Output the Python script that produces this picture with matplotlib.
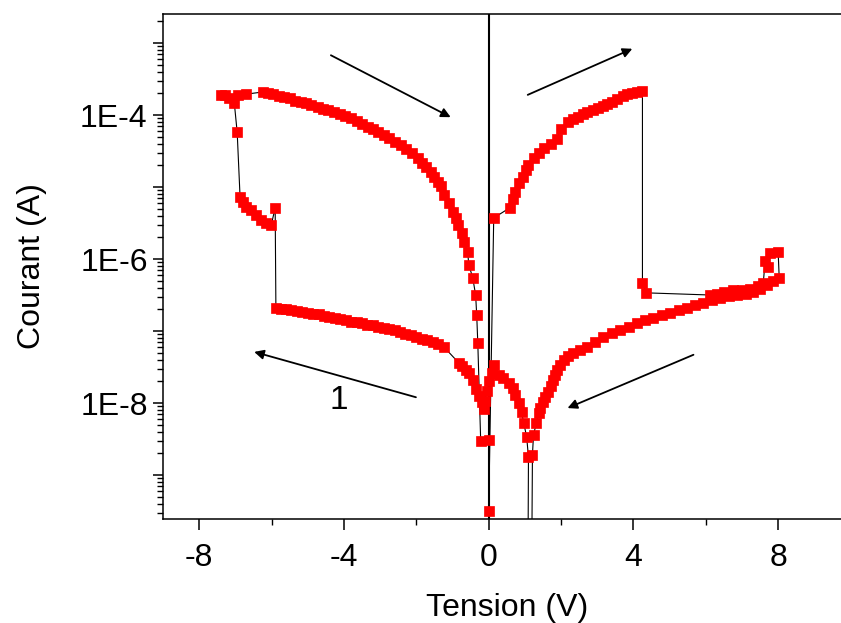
import matplotlib
matplotlib.use("Agg")
import matplotlib.pyplot as plt
import numpy as np
from matplotlib.ticker import FixedLocator, LogLocator, NullFormatter

plt.rcParams["font.family"] = ["Liberation Sans", "DejaVu Sans"]
plt.rcParams["axes.unicode_minus"] = False

# sweep 0 -> -7.4 V, low state then switching
v_low_left = [0.14, 0.08, 0.02, -0.05, -0.10, -0.14, -0.19, -0.28, -0.36, -0.44, -0.55, -0.63, -0.74, -0.83,
              -1.24, -1.40, -1.55, -1.70, -1.85, -2.00, -2.15, -2.30, -2.45, -2.60, -2.75, -2.90, -3.05, -3.20,
              -3.35, -3.50, -3.65, -3.80, -3.95, -4.10, -4.25, -4.40, -4.55, -4.70, -4.85, -5.00, -5.15, -5.30,
              -5.45, -5.60, -5.75, -5.88]
logi_low_left = [-7.47, -7.58, -7.70, -7.83, -7.97, -8.08, -7.99, -7.90, -7.81, -7.68, -7.58, -7.54, -7.49, -7.44,
                 -7.22, -7.18, -7.15, -7.13, -7.11, -7.09, -7.06, -7.04, -7.02, -6.99, -6.97, -6.96, -6.94, -6.92,
                 -6.91, -6.89, -6.88, -6.87, -6.85, -6.83, -6.82, -6.81, -6.79, -6.77, -6.76, -6.75, -6.74, -6.72,
                 -6.71, -6.70, -6.69, -6.68]

v_switch_left = [-5.90, -6.01, -6.15, -6.29, -6.43, -6.57, -6.70, -6.79, -6.87, -6.95, -7.03, -7.18, -7.39,
                 -7.30, -6.92, -6.70]
logi_switch_left = [-5.29, -5.53, -5.50, -5.46, -5.39, -5.32, -5.28, -5.21, -5.14, -4.24, -3.83, -3.76, -3.72,
                    -3.72, -3.72, -3.71]

# return -7.4 -> 0 V, high state
v_high_left = [-6.24, -6.10, -5.95, -5.80, -5.66, -5.50, -5.35, -5.19, -5.05, -4.90, -4.72, -4.58, -4.43, -4.28,
               -4.12, -3.96, -3.81, -3.65, -3.50, -3.34, -3.20, -3.05, -2.90, -2.75, -2.60, -2.43, -2.28, -2.12,
               -1.96, -1.84, -1.72, -1.60, -1.50, -1.40, -1.32, -1.24, -1.10, -0.99, -0.91, -0.86, -0.74, -0.69,
               -0.58, -0.55, -0.44, -0.36, -0.33, -0.30, -0.22, 0.0, 0.0]
logi_high_left = [-3.68, -3.69, -3.71, -3.73, -3.75, -3.77, -3.80, -3.82, -3.84, -3.86, -3.89, -3.91, -3.93, -3.96,
                  -3.99, -4.01, -4.04, -4.08, -4.12, -4.17, -4.20, -4.24, -4.28, -4.32, -4.37, -4.42, -4.47, -4.53,
                  -4.60, -4.66, -4.72, -4.79, -4.86, -4.93, -4.99, -5.11, -5.22, -5.35, -5.43, -5.53, -5.64, -5.76,
                  -5.90, -6.08, -6.26, -6.50, -6.78, -7.17, -8.53, -8.52, -9.50]

# sweep 0 -> 8 V, high state
v_high_right = [0.14, 0.58, 0.66, 0.74, 0.83, 0.94, 1.02, 1.10, 1.24, 1.38, 1.52, 1.71, 1.90, 1.99, 2.18, 2.32,
                2.46, 2.60, 2.73, 2.87, 3.01, 3.15, 3.28, 3.42, 3.56, 3.70, 3.83, 3.97, 4.11, 4.25]
logi_high_right = [-5.43, -5.29, -5.17, -5.07, -4.94, -4.86, -4.76, -4.69, -4.60, -4.53, -4.46, -4.40, -4.33, -4.19,
                   -4.10, -4.06, -4.03, -3.99, -3.96, -3.93, -3.90, -3.87, -3.85, -3.82, -3.78, -3.74, -3.71, -3.69,
                   -3.68, -3.66]

v_switch_right = [4.25, 4.36, 6.12, 6.30, 6.50, 6.76, 7.00, 7.23, 7.45, 7.59, 7.64, 7.72, 7.78, 8.00, 8.03]
logi_switch_right = [-6.33, -6.47, -6.50, -6.48, -6.46, -6.43, -6.43, -6.41, -6.37, -6.33, -6.03, -6.11, -5.92,
                     -5.90, -6.26]

# return 8 -> 0 V, low state
v_low_right = [7.85, 7.70, 7.50, 7.31, 7.10, 6.87, 6.65, 6.40, 6.17, 5.93, 5.71, 5.49, 5.25, 5.02, 4.78, 4.55,
               4.33, 4.11, 3.88, 3.64, 3.40, 3.17, 2.95, 2.73, 2.53, 2.34, 2.20, 2.07, 1.98, 1.90, 1.84, 1.79,
               1.71, 1.63, 1.56, 1.49, 1.43, 1.38, 1.32, 1.24, 1.21, 1.18, 1.08, 1.10, 1.05, 0.97, 0.91, 0.83,
               0.74, 0.66, 0.55, 0.41, 0.28]
logi_low_right = [-6.30, -6.36, -6.42, -6.46, -6.48, -6.50, -6.52, -6.54, -6.57, -6.61, -6.64, -6.68, -6.71, -6.75,
                  -6.78, -6.82, -6.85, -6.89, -6.94, -6.99, -7.03, -7.08, -7.15, -7.22, -7.26, -7.31, -7.35, -7.40,
                  -7.47, -7.54, -7.61, -7.68, -7.76, -7.85, -7.92, -7.99, -8.07, -8.14, -8.28, -8.44, -8.72, -11.0,
                  -11.0, -8.75, -8.47, -8.28, -8.13, -8.00, -7.89, -7.79, -7.72, -7.65, -7.61]

voltage = np.concatenate([v_low_left, v_switch_left, v_high_left, v_high_right, v_switch_right, v_low_right])
current = 10.0 ** np.concatenate([logi_low_left, logi_switch_left, logi_high_left, logi_high_right,
                                  logi_switch_right, logi_low_right])

fig = plt.figure(figsize=(8.41, 6.23), dpi=100)
ax = fig.add_axes([163 / 841, 104 / 623, 687.5 / 841, 505 / 623])

ax.plot(voltage, current, color="k", lw=0.8, marker="s", ms=7.0, mfc="#ff0000", mec="#ff0000", mew=0.5, zorder=3)
ax.axvline(0, color="k", lw=1.5, zorder=2)

ax.set_yscale("log")
ax.set_xlim(-9, 10)
ax.set_ylim(10 ** -9.611, 10 ** -2.597)

ax.set_xticks([-8, -4, 0, 4, 8])
ax.set_xticklabels(["-8", "-4", "0", "4", "8"])
ax.xaxis.set_minor_locator(FixedLocator([-6, -2, 2, 6]))
ax.yaxis.set_major_locator(FixedLocator([1e-9, 1e-8, 1e-7, 1e-6, 1e-5, 1e-4, 1e-3]))
ax.set_yticklabels(["", "1E-8", "", "1E-6", "", "1E-4", ""])
ax.yaxis.set_minor_locator(LogLocator(base=10, subs=np.arange(2, 10), numticks=20))
ax.yaxis.set_minor_formatter(NullFormatter())

ax.tick_params(axis="both", which="major", direction="out", width=1.1, labelsize=23)
ax.tick_params(axis="x", which="major", length=8, pad=9)
ax.tick_params(axis="y", which="major", length=7, pad=4)
ax.tick_params(axis="both", which="minor", direction="out", width=1.0, length=4.5)
for side in ["left", "bottom", "top"]:
    ax.spines[side].set_linewidth(1.1)
ax.spines["right"].set_visible(False)

ax.set_xlabel("Tension (V)", fontsize=23, labelpad=15)
ax.set_ylabel("Courant (A)", fontsize=23, labelpad=24)

arrow = dict(arrowstyle="-|>", color="k", lw=1.3, mutation_scale=14, shrinkA=0, shrinkB=0)
ax.annotate("", xy=(-1.05, 10 ** -4.03), xytext=(-4.36, 10 ** -3.17), arrowprops=arrow)
ax.annotate("", xy=(3.97, 10 ** -3.08), xytext=(1.08, 10 ** -3.72), arrowprops=arrow)
ax.annotate("", xy=(2.18, 10 ** -8.07), xytext=(5.66, 10 ** -7.33), arrowprops=arrow)
ax.annotate("", xy=(-6.48, 10 ** -7.29), xytext=(-2.01, 10 ** -7.92), arrowprops=arrow)
ax.text(-4.14, 10 ** -7.96, "1", fontsize=24, ha="center", va="center")

fig.savefig("out.png", dpi=100)
